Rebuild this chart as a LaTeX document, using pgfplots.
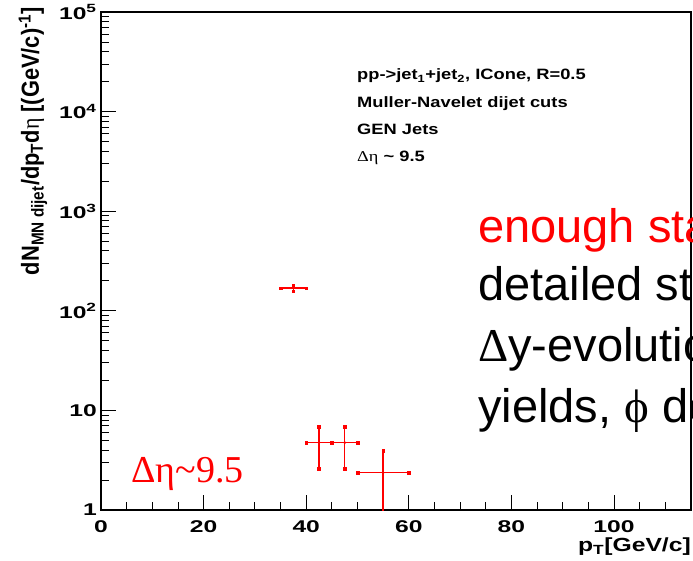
\documentclass[border=0pt]{standalone}
\usepackage{pgfplots}
\pgfplotsset{compat=1.18}
\usepackage{fontspec}
\setmainfont{Liberation Sans}
\newfontfamily\serif{Liberation Serif}
\definecolor{rootred}{RGB}{255,0,0}
\newcommand{\rt}[1]{\scalebox{1.45}[1]{#1}}
\newcommand{\rtb}[1]{\scalebox{1.22}[1]{#1}}
\begin{document}
\begin{tikzpicture}
\useasboundingbox (-101pt,-50pt) rectangle (592pt,510pt);
\begin{axis}[
  at={(0pt,0pt)}, anchor=south west,
  scale only axis, width=590pt, height=498pt,
  xmin=0, xmax=115, ymin=1, ymax=100000, ymode=log,
  axis line style={line width=1.1pt},
  tick align=inside, tick pos=left,
  major tick length=15pt, minor tick length=8pt,
  every tick/.style={black, line width=0.9pt},
  xtick={0,20,40,60,80,100},
  xticklabels={\rt{0},\rt{20},\rt{40},\rt{60},\rt{80},\rt{100}},
  minor xtick={5,10,15,25,30,35,45,50,55,65,70,75,85,90,95,105,110},
  ytick={1,10,100,1000,10000,100000},
  yticklabels={\rt{1},\rt{10},\rt{10\textsuperscript{2}},\rt{10\textsuperscript{3}},\rt{10\textsuperscript{4}},\rt{10\textsuperscript{5}}},
  minor ytick={2,3,4,5,6,7,8,9,20,30,40,50,60,70,80,90,200,300,400,500,600,700,800,900,2000,3000,4000,5000,6000,7000,8000,9000,20000,30000,40000,50000,60000,70000,80000,90000},
  ticklabel style={font=\fontsize{17}{19}\selectfont\bfseries},
  xticklabel style={anchor=north, inner sep=0pt, yshift=-10pt},
  yticklabel style={anchor=east, inner sep=0pt, xshift=-4pt},
  clip=true,
]
\addplot[rootred, line width=1.5pt, only marks, mark=*, mark size=0.4pt,
  error bars/.cd, x dir=both, x explicit, y dir=both, y explicit,
  error bar style={line width=1.5pt, rootred},
  error mark=square*,
  error mark options={rootred, mark size=1.3pt, line width=0.5pt}]
  table[x=x, y=y, x error=ex, y error=ey] {
  x    y    ex   ey
  37.5 169  2.5  12
  42.5 4.75 2.5  2.15
  47.5 4.75 2.5  2.15
  55   2.37 5    1.55
  };
\end{axis}
% y label
\node[rotate=90, anchor=east, inner sep=0pt, font=\fontsize{19}{21}\selectfont\bfseries]
  at (-68pt,503pt) {\scalebox{1.15}[1.3]{dN\textsubscript{MN dijet}/dp\textsubscript{T}d{\serif\mdseries η} [(GeV/c)\textsuperscript{-1}]}};
% x label
\node[anchor=base east, inner sep=0pt, font=\fontsize{19}{21}\selectfont\bfseries]
  at (590pt,-41pt) {\scalebox{1.3}[1]{p\textsubscript{T}[GeV/c]}};
% info block
\begin{scope}[every node/.style={anchor=base west, inner sep=0pt, font=\fontsize{15}{17}\selectfont\bfseries}]
\node at (256pt,430pt) {\rtb{pp->jet\textsubscript{1}+jet\textsubscript{2}, ICone, R=0.5}};
\node at (256pt,402pt) {\rtb{Muller-Navelet dijet cuts}};
\node at (256pt,375pt) {\rtb{GEN Jets}};
\node at (256pt,348pt) {\rtb{{\serif\mdseries Δη} \textasciitilde{} 9.5}};
\end{scope}
% red annotation
\node[anchor=base west, inner sep=0pt, text=rootred, font=\serif\fontsize{38}{42}\selectfont] at (30pt,28pt) {Δη\textasciitilde9.5};
% slide text, clipped at the picture edge as in the reference
\begin{scope}
\clip (-101pt,-50pt) rectangle (592pt,510pt);
\begin{scope}[every node/.style={anchor=base west, inner sep=0pt, font=\fontsize{47}{52}\selectfont}]
\node[text=rootred] at (377pt,267pt) {enough statistics};
\node at (377pt,210pt) {detailed studies};
\node at (377pt,149pt) {{\serif Δ}y-evolution of};
\node at (377pt,88pt) {yields, {\serif ϕ} decorrelations};
\end{scope}
\end{scope}
\end{tikzpicture}
\end{document}
